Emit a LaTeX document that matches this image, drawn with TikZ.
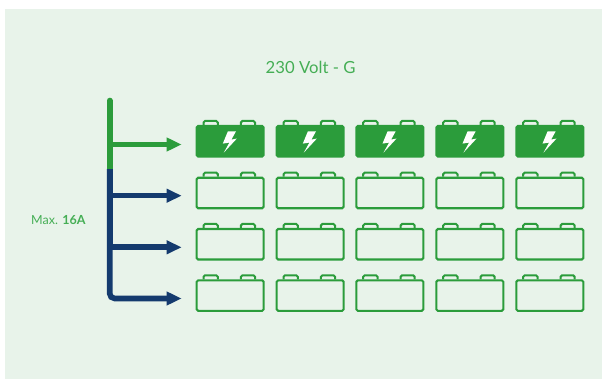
\documentclass[tikz,border=0pt]{standalone}
\usepackage{fontspec}
\setmainfont{Lato}
\usetikzlibrary{arrows.meta}
\definecolor{bgc}{HTML}{E8F3EA}
\definecolor{gc}{HTML}{2B9C3B}
\definecolor{bc}{HTML}{143A6E}
\definecolor{tc}{HTML}{45AE55}
\tikzset{
  battbody/.style={rectangle,rounded corners=1.5pt,draw=gc,line width=2.1pt,minimum width=67pt,minimum height=30.5pt,inner sep=0pt,anchor=north west},
  battfull/.style={battbody,fill=gc},
  battempty/.style={battbody},
  lug/.style={draw=gc,line width=2pt,rounded corners=1.5pt},
  bolt/.style={fill=white,draw=none},
  feed/.style={line width=5.6pt},
  branch/.style={line width=5.6pt,-{Triangle[length=15pt,width=13pt]}},
  caption/.style={text=tc,inner sep=0pt,anchor=base west}
}
\begin{document}
\begin{tikzpicture}[x=1pt,y=-1pt]
\useasboundingbox (0,0) rectangle (602,379);
\fill[bgc] (5,9) rectangle (602,379);
\node[caption,font=\fontsize{16.7}{20}\selectfont] (title) at (265.5,74) {230 Volt - G};
\node[caption,font=\fontsize{12.5}{15}\selectfont] (maxa) at (31,224.5) {Max. \textbf{16A}};
% batteries
\foreach \c/\x in {1/195.6,2/275.6,3/355.3,4/435.3,5/515.3}{
  \foreach \r/\y/\s in {1/125/battfull,2/176.7/battempty,3/228/battempty,4/279.3/battempty}{
    \draw[lug] (\x+7.9,\y) -- (\x+7.9,\y-4) -- (\x+22.2,\y-4) -- (\x+22.2,\y);
    \draw[lug] (\x+45.3,\y) -- (\x+45.3,\y-4) -- (\x+59.4,\y-4) -- (\x+59.4,\y);
    \node[\s] (b\r\c) at (\x,\y) {};
  }
  \fill[bolt] (\x+40.4,124+7.3) -- (\x+32.3,124+7.3) -- (\x+27.2,124+19.6) -- (\x+33.8,124+18.6) -- (\x+28.2,124+28.6) -- (\x+41.2,124+14.6) -- (\x+35.8,124+15.6) -- cycle;
}
% feeders
\coordinate (top) at (109.7,100.5);
\coordinate (joint) at (109.7,169);
\coordinate (foot) at (109.7,298.5);
\coordinate (a1) at (181.7,144.5);
\coordinate (a2) at (181.7,195.7);
\coordinate (a3) at (181.7,247.3);
\coordinate (a4) at (181.7,298.5);
\draw[feed,bc] (joint) -- (109.7,250);
\draw[branch,bc] (109.7,195.7) -- (a2);
\draw[branch,bc] (109.7,247.3) -- (a3);
\draw[branch,bc,rounded corners=5pt] (joint) -- (foot) -- (a4);
\draw[feed,gc,line cap=round] (top) -- (109.7,165);
\draw[feed,gc] (109.7,160) -- (joint);
\draw[branch,gc] (109.7,144.5) -- (a1);
\end{tikzpicture}
\end{document}
